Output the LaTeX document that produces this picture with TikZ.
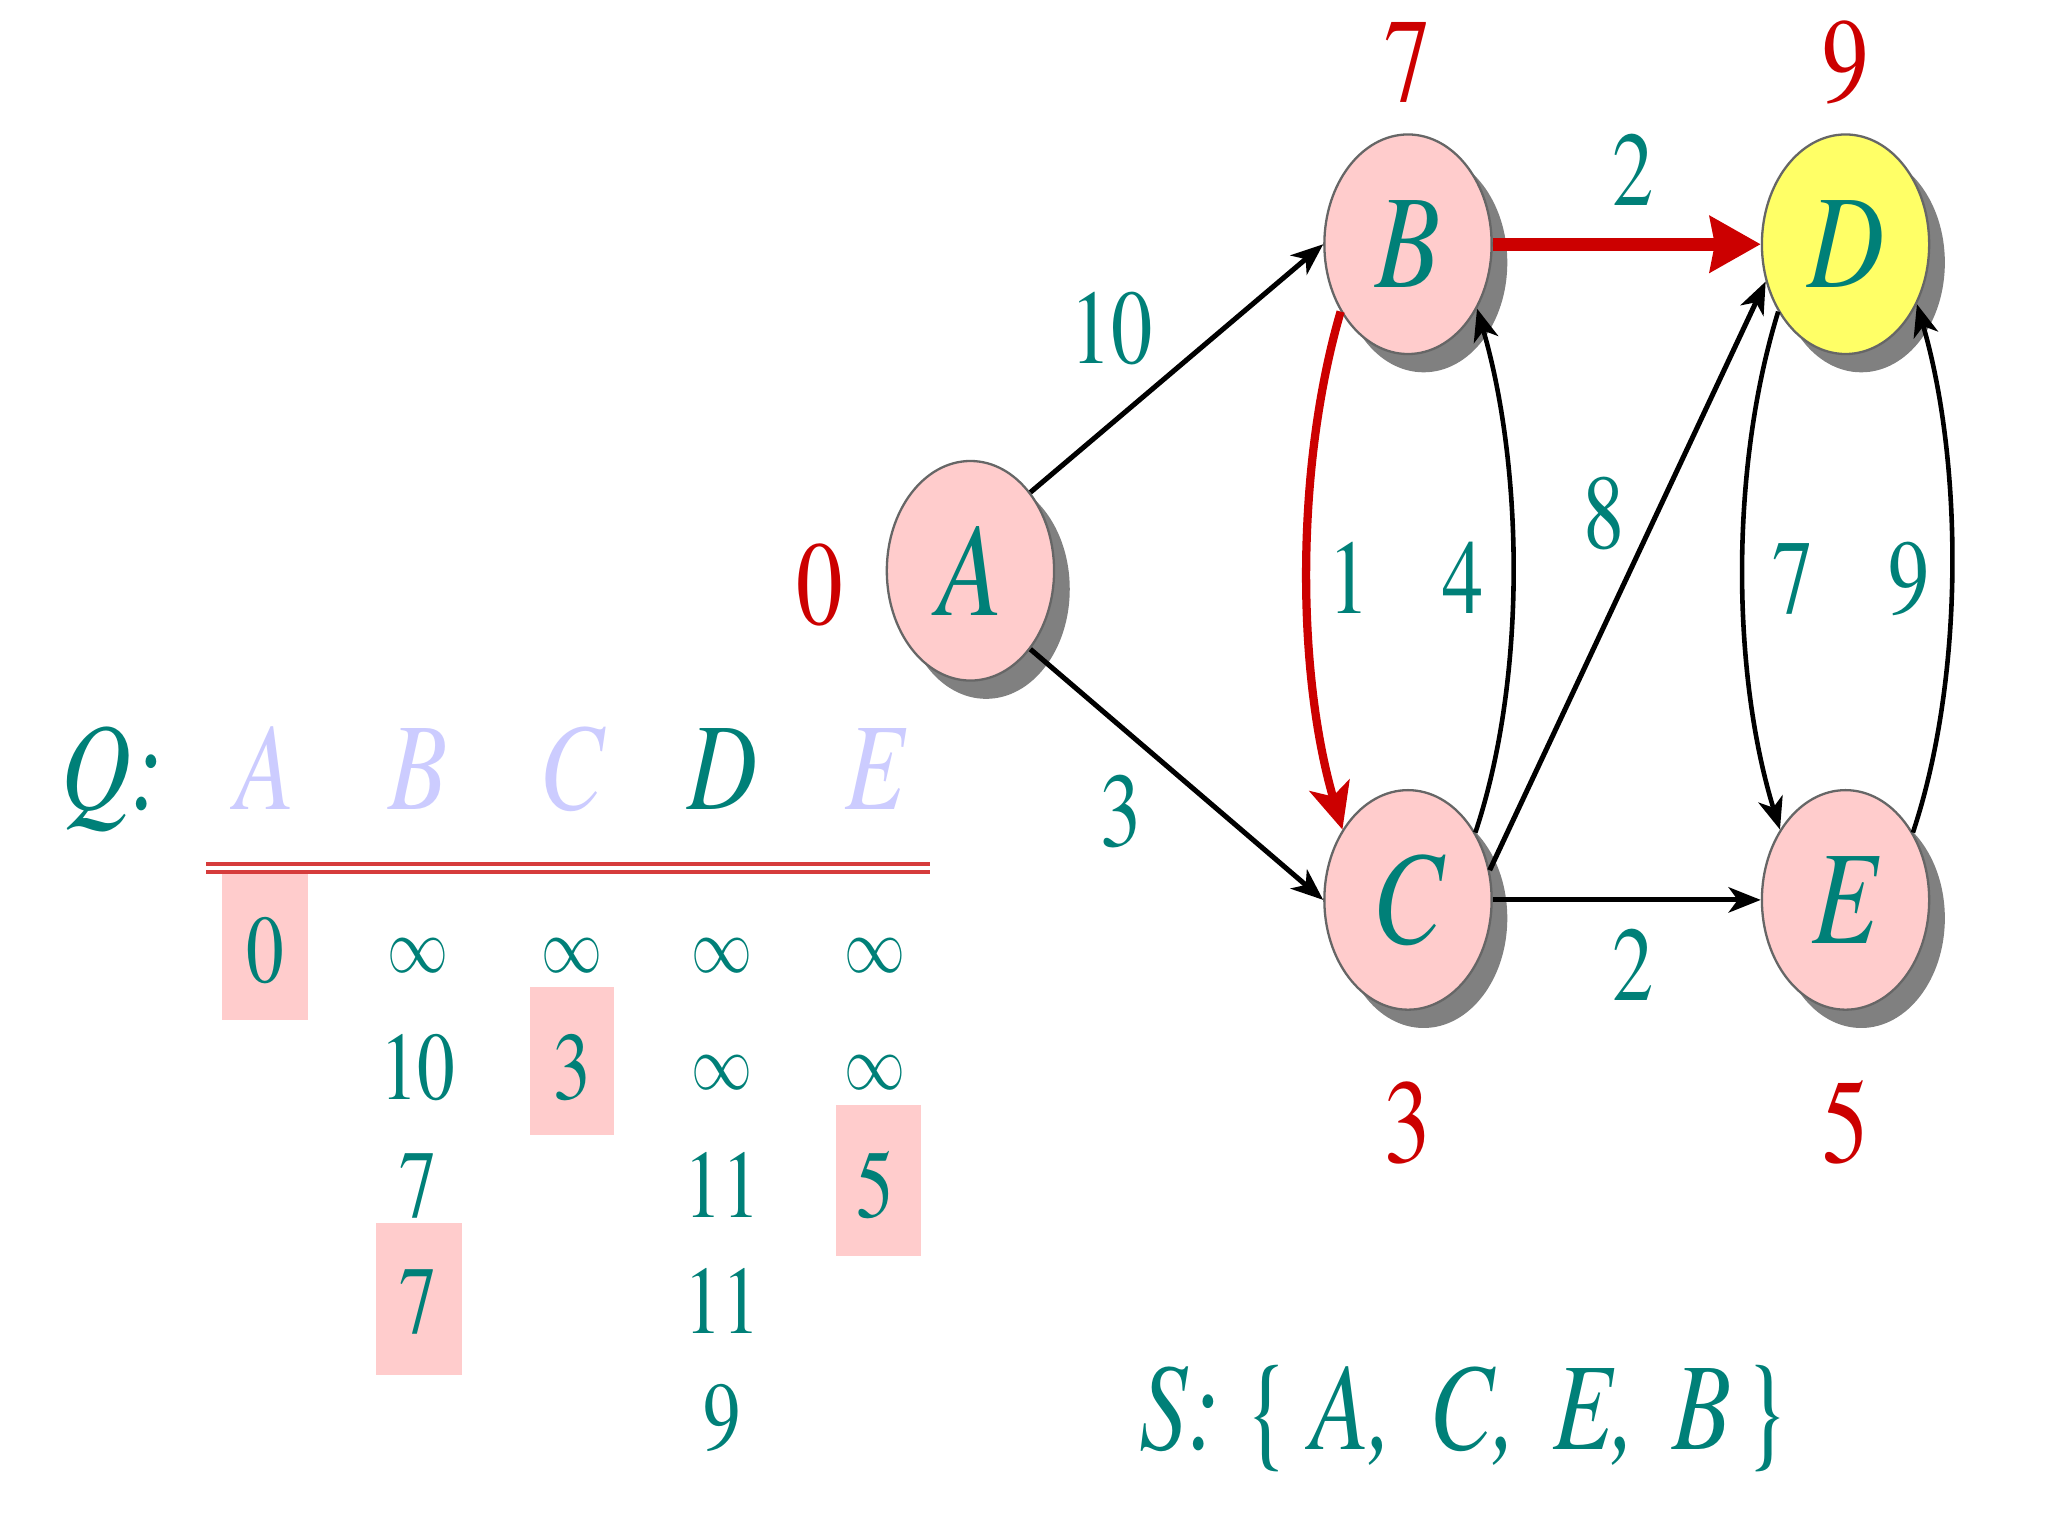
\documentclass[tikz,border=0pt]{standalone}
\usepackage{fontspec}
\setmainfont{texgyretermes}[Extension=.otf, UprightFont=*-regular, ItalicFont=*-italic, BoldFont=*-bold, BoldItalicFont=*-bolditalic]
\usetikzlibrary{shapes.geometric,shadows,arrows.meta}
\definecolor{tealtxt}{RGB}{0,128,120}
\definecolor{redtxt}{RGB}{204,0,0}
\definecolor{lav}{RGB}{204,204,255}
\definecolor{npink}{RGB}{255,204,204}
\definecolor{nyellow}{RGB}{255,255,102}
\definecolor{shadowgray}{RGB}{128,128,128}
\definecolor{qred}{RGB}{214,60,60}
\newcommand\myfs[1]{\fontsize{#1pt}{#1pt}\selectfont}
\newcommand\myinf{\raisebox{2.2pt}{\scalebox{0.82}{$\infty$}}}
\newcommand\narrow[1]{\scalebox{0.8}[1]{#1}}
\tikzset{
  vert/.style={ellipse, draw=black!60, line width=0.5pt, fill=npink,
    minimum width=1.28cm, minimum height=1.68cm, inner sep=0pt,
    text=tealtxt, font={\myfs{29}\itshape},
    drop shadow={shadow xshift=0.12cm, shadow yshift=-0.14cm, fill=shadowgray, opacity=1}},
  squeeze/.style={xscale=0.78, transform shape},
  blk/.style={line width=1.1pt, -{Stealth[length=7pt,width=5.5pt,inset=2pt]}},
  blkthin/.style={line width=1pt, -{Stealth[length=7pt,width=5.5pt,inset=2pt]}},
  redthick/.style={draw=redtxt, line width=2.8pt, -{Stealth[length=11pt,width=12pt,inset=1pt]}},
  redcurve/.style={draw=redtxt, line width=1.8pt, -{Stealth[length=10pt,width=9pt,inset=2.5pt]}},
  wlbl/.style={squeeze, anchor=base, text=tealtxt, font={\myfs{23}}, inner sep=0pt},
  dlbl/.style={squeeze, anchor=base, text=redtxt, font={\myfs{26}}, inner sep=0pt},
  hdr/.style={squeeze, anchor=base, font={\myfs{27}\itshape}, inner sep=0pt},
  cell/.style={squeeze, anchor=base, text=tealtxt, font={\myfs{21}}, inner sep=0pt},
  hl/.style={fill=npink, draw=none}
}
\begin{document}
\begin{tikzpicture}[x=0.01cm,y=-0.01cm]
\useasboundingbox[fill=white] (0,0) rectangle (1568,1176);

% graph nodes
\node[vert] (A) at (743,437) {\narrow{A}};
\node[vert] (B) at (1078,187) {\narrow{B}};
\node[vert, fill=nyellow] (D) at (1413,187) {\narrow{D}};
\node[vert] (C) at (1078,689) {\narrow{C}};
\node[vert] (E) at (1413,689) {\narrow{E}};

% edges
\draw[blk] (A.north east) -- (B.west);
\draw[blk] (A.south east) -- (C.west);
\draw[blk] (C.east) -- (E.west);
\draw[blk] (C.20) -- (D.205);
\draw[redthick] (B.east) -- (D.west);
\draw[redcurve] (B.225) .. controls +(-35,120) and +(-35,-120) .. (C.133);
\draw[blkthin] (C.45) .. controls +(40,-120) and +(35,120) .. (B.-43);
\draw[blkthin] (D.225) .. controls +(-37,120) and +(-37,-120) .. (E.133);
\draw[blkthin] (E.45) .. controls +(40,-120) and +(35,120) .. (D.-40);

% edge weights
\node[wlbl] (wAB) at (851,278) {10};
\node[wlbl] (wAC) at (858,648) {3};
\node[wlbl] (wBD) at (1250,157) {2};
\node[wlbl] (wCE) at (1250,766) {2};
\node[wlbl] (wCD) at (1228,420) {8};
\node[wlbl] (wBC) at (1033,470) {1};
\node[wlbl] (wCB) at (1120,470) {4};
\node[wlbl] (wDE) at (1373,470) {7};
\node[wlbl] (wED) at (1462,470) {9};

% distances
\node[dlbl] (dA) at (628,478) {0};
\node[dlbl] (dB) at (1078,78) {7};
\node[dlbl] (dD) at (1413,78) {9};
\node[dlbl] (dC) at (1078,890) {3};
\node[dlbl] (dE) at (1413,890) {5};

% highlight boxes
\fill[hl] (170,665) rectangle (236,781);
\fill[hl] (406,756) rectangle (470,869);
\fill[hl] (640,846) rectangle (705,962);
\fill[hl] (288,936) rectangle (354,1053);

% Q header
\node[hdr, text=tealtxt] (Q) at (86,620) {Q:};
\node[hdr, text=lav] (hA) at (203,620) {A};
\node[hdr, text=lav] (hB) at (320,620) {B};
\node[hdr, text=lav] (hC) at (438,620) {C};
\node[hdr, text=tealtxt] (hD) at (553,620) {D};
\node[hdr, text=lav] (hE) at (670,620) {E};
\coordinate (qL) at (158,664.5);
\coordinate (qR) at (712,664.5);
\draw[qred, line width=0.03cm, double=white, double distance=0.035cm] (qL) -- (qR);

% table
\node[cell] (a1) at (203,752) {0};
\node[cell] (b1) at (320,752) {\myinf};
\node[cell] (c1) at (438,752) {\myinf};
\node[cell] (d1) at (553,752) {\myinf};
\node[cell] (e1) at (670,752) {\myinf};
\node[cell] (b2) at (320,842) {10};
\node[cell] (c2) at (438,842) {3};
\node[cell] (d2) at (553,842) {\myinf};
\node[cell] (e2) at (670,842) {\myinf};
\node[cell] (b3) at (320,932) {7};
\node[cell] (d3) at (553,932) {11};
\node[cell] (e3) at (670,932) {5};
\node[cell] (b4) at (320,1021) {7};
\node[cell] (d4) at (553,1021) {11};
\node[cell] (d5) at (553,1110) {9};

% S set
\node[hdr, text=tealtxt, anchor=base west] (S) at (872,1110)
  {S:\hspace{0.25em}\upshape\{\hspace{0.2em}\itshape A,\hspace{0.12em} C,\hspace{0.12em} E,\hspace{0.12em} B\hspace{0.12em}\upshape\}};
\end{tikzpicture}
\end{document}
